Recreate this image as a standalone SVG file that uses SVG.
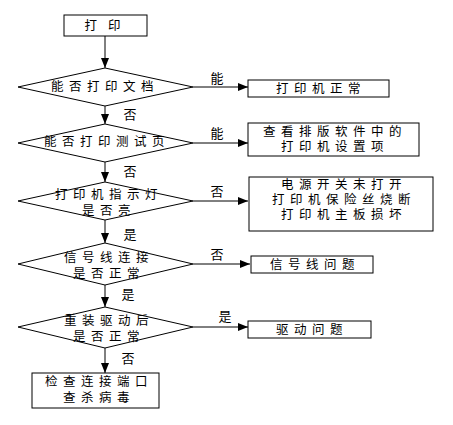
<svg xmlns="http://www.w3.org/2000/svg" width="453" height="425" viewBox="0 0 453 425">
<style>
.s{fill:#fff;stroke:#000;stroke-width:1}
.t{font-family:"Liberation Sans","Noto Sans CJK SC","Noto Sans CJK JP",sans-serif;font-size:12.5px;letter-spacing:5.5px;text-anchor:middle;dominant-baseline:central;fill:#000}
.l{font-family:"Liberation Sans","Noto Sans CJK SC","Noto Sans CJK JP",sans-serif;font-size:13px;text-anchor:middle;dominant-baseline:central;fill:#000}
.c{stroke:#000;stroke-width:1;fill:none;marker-end:url(#a)}
</style>
<defs>
<marker id="a" markerWidth="10" markerHeight="8" refX="10" refY="4" orient="auto" markerUnits="userSpaceOnUse">
<path d="M0,0 L10,4 L0,8 Z" fill="#000"/>
</marker>
</defs>
<rect width="453" height="425" fill="#fff"/>
<g id="connectors">
<line class="c" x1="105" y1="36" x2="105" y2="68"/>
<line class="c" x1="105" y1="106" x2="105" y2="124"/>
<line class="c" x1="105" y1="162" x2="105" y2="182"/>
<line class="c" x1="105" y1="220" x2="105" y2="243"/>
<line class="c" x1="105" y1="285" x2="105" y2="307"/>
<line class="c" x1="105" y1="348" x2="105" y2="373"/>
<line class="c" x1="193" y1="87" x2="248" y2="87"/>
<line class="c" x1="193" y1="143" x2="248" y2="143"/>
<line class="c" x1="193" y1="201" x2="248" y2="201"/>
<line class="c" x1="193" y1="264" x2="250" y2="264"/>
<line class="c" x1="193" y1="327" x2="248" y2="327"/>
<text class="l" x="130" y="114">否</text>
<text class="l" x="130" y="171">否</text>
<text class="l" x="130" y="234">是</text>
<text class="l" x="128" y="294">是</text>
<text class="l" x="128" y="358">否</text>
<text class="l" x="217" y="78">能</text>
<text class="l" x="217" y="133">能</text>
<text class="l" x="217" y="191">否</text>
<text class="l" x="217" y="254">否</text>
<text class="l" x="225" y="316">是</text>
</g>
<g id="start">
<rect class="s" x="64" y="15" width="83" height="21"/>
<text class="t" x="108" y="25.5" style="letter-spacing:11px">打印</text>
</g>
<g id="d1">
<polygon class="s" points="105,68 193,87 105,106 18,87"/>
<text class="t" x="105" y="87">能否打印文档</text>
</g>
<g id="d2">
<polygon class="s" points="105,124 193,143 105,162 18,143"/>
<text class="t" x="107" y="142">能否打印测试页</text>
</g>
<g id="d3">
<polygon class="s" points="105,182 193,201 105,220 18,201"/>
<text class="t" x="109" y="195">打印机指示灯</text>
<text class="t" x="109" y="211">是否亮</text>
</g>
<g id="d4">
<polygon class="s" points="105,243 193,264 105,285 18,264"/>
<text class="t" x="109" y="258">信号线连接</text>
<text class="t" x="109" y="274">是否正常</text>
</g>
<g id="d5">
<polygon class="s" points="105,307 193,327 105,348 18,327"/>
<text class="t" x="109" y="321">重装驱动后</text>
<text class="t" x="109" y="337">是否正常</text>
</g>
<g id="end">
<rect class="s" x="32" y="373" width="127" height="35"/>
<text class="t" x="99" y="382">检查连接端口</text>
<text class="t" x="99" y="398">查杀病毒</text>
</g>
<g id="r1">
<rect class="s" x="248" y="80" width="141" height="17"/>
<text class="t" x="321" y="88.5">打印机正常</text>
</g>
<g id="r2">
<rect class="s" x="248" y="123" width="171" height="33"/>
<text class="t" x="335" y="132">查看排版软件中的</text>
<text class="t" x="335" y="147">打印机设置项</text>
</g>
<g id="r3">
<rect class="s" x="249" y="177" width="184" height="54"/>
<text class="t" x="344" y="185">电源开关未打开</text>
<text class="t" x="344" y="200">打印机保险丝烧断</text>
<text class="t" x="344" y="215">打印机主板损坏</text>
</g>
<g id="r4">
<rect class="s" x="251" y="256" width="122" height="17"/>
<text class="t" x="315" y="264.5">信号线问题</text>
</g>
<g id="r5">
<rect class="s" x="248" y="321" width="123" height="17"/>
<text class="t" x="312" y="329.5">驱动问题</text>
</g>
</svg>
